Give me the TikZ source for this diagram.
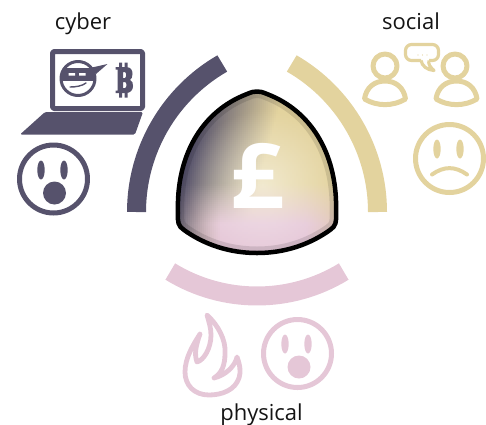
\documentclass[tikz,border=0pt]{standalone}
\usepackage{fontspec}
\usepackage{graphicx}
\setmainfont{Open Sans}
\definecolor{cdark}{HTML}{56526C}
\definecolor{cyel}{HTML}{E3D39E}
\definecolor{cpink}{HTML}{E5C7D7}
\tikzset{
  lbl/.style={font=\fontsize{22}{26}\selectfont, text=black!92, anchor=base, inner sep=0pt},
  band/.style={line width=19pt, line cap=butt},
  ring/.style={line width=5pt},
}
\def\shield{(257,91.5) .. controls (253,91.5) and (252,92) .. (247,94)
  .. controls (200,112) and (176,158) .. (178,213)
  .. controls (177.5,222) and (178,226) .. (184,230)
  .. controls (205,245) and (230,253) .. (257,253)
  .. controls (284,253) and (309,245) .. (330,230)
  .. controls (336,226) and (336.5,222) .. (336,213)
  .. controls (338,158) and (314,112) .. (267,94)
  .. controls (262,92) and (261,91.5) .. (257,91.5) -- cycle}
\begin{document}
\begin{tikzpicture}[x=1pt,y=1pt,yscale=-1,line join=round]
\useasboundingbox (0,0) rectangle (486,424);
% bands
\draw[band,cdark] (308,212)+(180:171.5) arc (180:240:171.5);
\draw[band,cyel] (206,212)+(0:171.5) arc (0:-60:171.5);
\draw[band,cpink] (257,130)+(121.5:166) arc (121.5:58.5:166);
% shield
\begin{scope}
  \clip \shield;
  \foreach \gx in {174,176,...,340}{
    \foreach \gy in {88,90,...,256}{
      \pgfmathsetmacro{\dd}{(\gx-222)*.966+(\gy-170)*.259}
      \pgfmathsetmacro{\wd}{max(0,min(1,(38-\dd)/74))}
      \pgfmathsetmacro{\wp}{max(0,min(1,(\gy-183)/40))*max(0,min(1,(\gx-175)/45))*max(0,min(1,(375-\gx)/70))}
      \pgfmathsetmacro{\ww}{.5*max(0,1-veclen(\gx-262,\gy-185)/75)}
      \pgfmathsetmacro{\cr}{((.89*(1-\wd)+.337*\wd)*(1-\wp)+.898*\wp)*(1-\ww)+\ww}
      \pgfmathsetmacro{\cg}{((.827*(1-\wd)+.322*\wd)*(1-\wp)+.78*\wp)*(1-\ww)+\ww}
      \pgfmathsetmacro{\cb}{((.62*(1-\wd)+.424*\wd)*(1-\wp)+.843*\wp)*(1-\ww)+\ww}
      \definecolor{meshc}{rgb}{\cr,\cg,\cb}
      \fill[meshc] (\gx,\gy) rectangle ++(2.4,2.4);
    }
  }
  \draw[black,opacity=.11,line width=13pt] \shield;
\end{scope}
\draw[black,line width=4.5pt] \shield;
\node[inner sep=0pt,text=white,font=\fontsize{90}{90}\selectfont\bfseries,anchor=base] (pound) at (257,208.5) {\scalebox{1.05}[1]{£}};
% labels
\node[lbl] (lcyber) at (83,29) {cyber};
\node[lbl] (lsocial) at (411,29) {social};
\node[lbl] (lphys) at (261.5,420) {physical};
% laptop
\draw[cdark,ring,rounded corners=1.5pt] (52.5,51.5) rectangle (142.5,108.5);
\fill[cdark,rounded corners=1.5pt] (45,112) -- (143,112) -- (135,134.5) -- (20,134.5) -- cycle;
% ninja
\begin{scope}
  \clip (78,78.5) circle (18);
  \fill[cdark] (55,68) rectangle (100,81);
\end{scope}
\draw[cdark,line width=3pt] (78,78.5) circle (17);
\fill[cdark] (92,67.5) -- (107.5,64) -- (96,74) -- cycle;
\fill[white] (68.5,73) rectangle (75,75.5) (79,73) rectangle (85.5,75.5);
\draw[cdark,line width=1.4pt,line cap=round] (70,87) .. controls (76,87) and (82,86) .. (86,83);
% bitcoin
\fill[cdark,even odd rule] (115.5,67) -- (126,67) .. controls (131.5,67) and (132.5,71) .. (132.5,74)
  .. controls (132.5,77) and (131.5,79) .. (130,80) .. controls (132.5,81) and (133,83) .. (133,86)
  .. controls (133,90) and (130.5,93) .. (126,93) -- (115.5,93) -- (115.5,90.5) -- (117.5,90.5) -- (117.5,69.5) -- (115.5,69.5) -- cycle
  (123,72) -- (125,72) .. controls (126.5,72) and (126.5,78) .. (125,78) -- (123,78) -- cycle
  (123,82) -- (125,82) .. controls (127,82) and (127,88) .. (125,88) -- (123,88) -- cycle;
\fill[cdark] (119,62.5) rectangle (122,68) (124.5,62.5) rectangle (127.5,68) (119,92) rectangle (122,97.5) (124.5,92) rectangle (127.5,97.5);
% cyber face
\draw[cdark,ring] (53.5,179) circle (34);
\fill[cdark] (41,170) ellipse (3.7 and 9.5) (64,170) ellipse (3.7 and 9.5) (54.5,193) circle (11.5);
% physical face
\draw[cpink,ring] (297.5,353.5) circle (34);
\fill[cpink] (285,344) ellipse (3.7 and 9.5) (308,344) ellipse (3.7 and 9.5) (299,367) circle (11.5);
% sad face
\draw[cyel,ring] (449.5,158.5) circle (34);
\fill[cyel] (437,149) ellipse (3.7 and 9.5) (460,149) ellipse (3.7 and 9.5);
\draw[cyel,line width=4pt,line cap=round] (432,174.5) .. controls (444,166) and (455,166) .. (467,174.5);
% flame
\draw[cpink,line width=4.8pt] (207,315) .. controls (218,325) and (226,340) .. (225,353)
  .. controls (225,365) and (222,373) .. (214,378)
  .. controls (226,375) and (235,366) .. (237,357)
  .. controls (240,365) and (241,372) .. (239,378)
  .. controls (235,390) and (222,395) .. (209,395)
  .. controls (194,395) and (185,385) .. (185,372)
  .. controls (185,358) and (193,345) .. (200,334)
  .. controls (196,345) and (194,354) .. (197,362)
  .. controls (204,360) and (211,348) .. (211,335)
  .. controls (211,328) and (209,322) .. (207,315) -- cycle;
% users
\draw[cyel,line width=5pt] (385,66) circle (12);
\draw[cyel,line width=5pt] (364.5,99) .. controls (366,88) and (374,81) .. (385,81)
  .. controls (396,81) and (404,88) .. (405.5,99) .. controls (393,106.5) and (377,106.5) .. (364.5,99) -- cycle;
\draw[cyel,line width=5pt] (455,66) circle (12);
\draw[cyel,line width=5pt] (436,99) .. controls (437.5,88) and (445.5,81) .. (456.5,81)
  .. controls (467.5,81) and (475.5,88) .. (477,99) .. controls (464.5,106.5) and (448.5,106.5) .. (436,99) -- cycle;
% bubble
\draw[cyel,line width=3.2pt,rounded corners=6pt] (421,60.5) -- (405.5,60.5) -- (405.5,44.5) -- (438.5,44.5) -- (438.5,60.5) -- (429,60.5);
\draw[cyel,line width=3.2pt] (421,60.5) .. controls (422,66) and (427,70) .. (434,70.5) .. controls (430,67) and (428,64) .. (429,60.5);
\fill[cyel] (418,55) circle (.6) (422.5,55) circle (.6) (427,55) circle (.6);
\end{tikzpicture}
\end{document}
